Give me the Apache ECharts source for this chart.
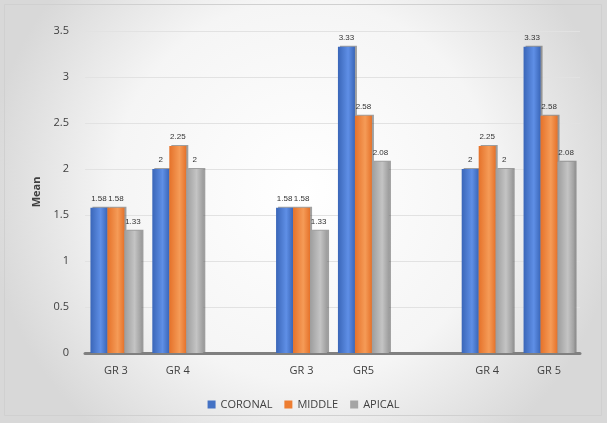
<!DOCTYPE html>
<html>
<head>
<meta charset="utf-8">
<script src="https://cdn.jsdelivr.net/npm/echarts@6/dist/echarts.min.js"></script>
<style>
html,body{margin:0;padding:0;background:#fff;}
#chart{width:607px;height:423px;}
</style>
</head>
<body>
<div id="chart"></div>
<script>
var categories = ['GR 3', 'GR 4', '', 'GR 3', 'GR5', '', 'GR 4', 'GR 5'];
var coronal = [1.58, 2, null, 1.58, 3.33, null, 2, 3.33];
var middle  = [1.58, 2.25, null, 1.58, 2.58, null, 2.25, 2.58];
var apical  = [1.33, 2, null, 1.33, 2.08, null, 2, 2.08];
var yTicks = [0, 0.5, 1, 1.5, 2, 2.5, 3, 3.5];

function grad(c1, c2) {
  return new echarts.graphic.LinearGradient(0, 0, 1, 0, [
    {offset: 0, color: c1}, {offset: 0.6, color: c2}, {offset: 1, color: c1}
  ]);
}
function mk(name, data, c1, c2, flat) {
  return {
    name: name, type: 'bar', data: data, barWidth: 17, barGap: '0%',
    itemStyle: {color: grad(c1, c2), borderWidth: 0,
      shadowColor: 'rgba(70,70,70,0.5)', shadowOffsetX: 2, shadowOffsetY: -1, shadowBlur: 0},
    label: {show: true, position: 'top', fontSize: 8, color: '#333', distance: 5,
      fontFamily: 'Liberation Sans',
      formatter: function (p) { return p.value == null ? '' : String(p.value); }}
  };
}
var chart = echarts.init(document.getElementById('chart'));
chart.setOption({
  animation: false,
  backgroundColor: new echarts.graphic.RadialGradient(0.5, 0.45, 0.75, [
    {offset: 0, color: '#ffffff'}, {offset: 0.6, color: '#f5f5f5'}, {offset: 1, color: '#d8d8d8'}
  ]),
  graphic: [{type: 'rect', shape: {x: 4.5, y: 4.5, width: 597, height: 411},
    style: {fill: 'none', stroke: '#d0d0d0', lineWidth: 1}}],
  grid: {left: 85, right: 27, top: 31, bottom: 70},
  legend: {
    bottom: 8, left: 'center', itemWidth: 8, itemHeight: 8, itemGap: 12,
    icon: 'rect',
    textStyle: {fontSize: 11, color: '#404040', fontFamily: 'Open Sans'},
    data: [
      {name: 'CORONAL', itemStyle: {color: '#4472c4', borderWidth: 0, shadowBlur: 0, shadowOffsetX: 0, shadowOffsetY: 0}},
      {name: 'MIDDLE', itemStyle: {color: '#ed7d31', borderWidth: 0, shadowBlur: 0, shadowOffsetX: 0, shadowOffsetY: 0}},
      {name: 'APICAL', itemStyle: {color: '#a5a5a5', borderWidth: 0, shadowBlur: 0, shadowOffsetX: 0, shadowOffsetY: 0}}
    ]
  },
  xAxis: {
    type: 'category', data: categories,
    axisLine: {lineStyle: {color: '#808080', width: 3}},
    axisTick: {show: false},
    axisLabel: {fontSize: 11, color: '#404040', margin: 12, fontFamily: 'Open Sans'}
  },
  yAxis: {
    type: 'value', min: yTicks[0], max: yTicks[yTicks.length - 1], interval: 0.5,
    name: 'Mean', nameLocation: 'middle', nameGap: 38, nameRotate: 90,
    nameTextStyle: {fontSize: 11, fontWeight: 'bold', color: '#404040', fontFamily: 'Open Sans'},
    axisLine: {show: false}, axisTick: {show: false},
    axisLabel: {fontSize: 11, color: '#404040', margin: 16, fontFamily: 'Open Sans'},
    splitLine: {lineStyle: {color: '#e2e2e2', width: 1}}
  },
  series: [
    mk('CORONAL', coronal, '#3a66b8', '#5f8fe6'),
    mk('MIDDLE', middle, '#e5722a', '#f59b57'),
    mk('APICAL', apical, '#9d9d9d', '#c4c4c4')
  ]
});
</script>
</body>
</html>
